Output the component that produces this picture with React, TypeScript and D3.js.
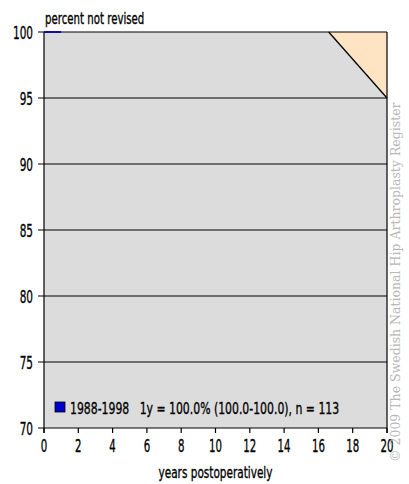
import React from 'react';
import * as d3 from 'd3';

// survival curve (years, percent not revised)
const curveYears = [0, 1];
const curvePercent = [100, 100];
// shaded region above the lower confidence limit
const bandYears = [16.6, 20, 20];
const bandPercent = [100, 95, 100];
const xTicks = [0, 2, 4, 6, 8, 10, 12, 14, 16, 18, 20];
const yTicks = [70, 75, 80, 85, 90, 95, 100];
const legendLabel = '1988-1998   1y = 100.0% (100.0-100.0), n = 113';

const font = '"DejaVu Sans", sans-serif';

// narrow text: DejaVu squeezed horizontally to look like the condensed original
function T({ x, y, anchor = 'start', size = 15, sx = 0.72, children }: any) {
  return (
    <g transform={`translate(${x},${y}) scale(${sx},1)`}>
      <text x={0} y={0} textAnchor={anchor} fontSize={size} stroke="#000" strokeWidth={0.35} style={{ whiteSpace: 'pre' }}>{children}</text>
    </g>
  );
}

export default function App() {
  const margin = { top: 32, left: 44, right: 22, bottom: 56 };
  const W = 409, H = 484;
  const x = d3.scaleLinear().domain([0, 20]).range([margin.left, W - margin.right]);
  const y = d3.scaleLinear().domain([70, 100]).range([H - margin.bottom, margin.top]);

  const band = d3.line<number>().x((d) => x(bandYears[d])).y((d) => y(bandPercent[d]));
  const curve = d3.line<number>().x((d) => x(curveYears[d])).y((d) => y(curvePercent[d]));

  return (
    <svg width={W} height={H} style={{ position: 'absolute', left: 0, top: 0 }} fontFamily={font}>
      <rect x={x(0)} y={y(100)} width={x(20) - x(0)} height={y(70) - y(100)} fill="#dcdcdc" />
      <path d={band([0, 1, 2]) + 'Z'} fill="#ffe4c4" />
      <line x1={x(bandYears[0])} y1={y(bandPercent[0])} x2={x(bandYears[1])} y2={y(bandPercent[1])} stroke="#000" strokeWidth={1.3} />
      {yTicks.map((t) => (
        <g key={t}>
          <line x1={x(0) - 6} x2={x(20)} y1={y(t)} y2={y(t)} stroke="#000" strokeWidth={1.2} />
          <T x={33} y={y(t) + 6.5} anchor="end" size={17.5} sx={0.6}>{t}</T>
        </g>
      ))}
      <line x1={x(0)} x2={x(0)} y1={y(100)} y2={y(70) + 5} stroke="#000" strokeWidth={1.2} />
      <line x1={x(20)} x2={x(20)} y1={y(100)} y2={y(70) + 5} stroke="#000" strokeWidth={1.2} />
      {xTicks.map((t) => (
        <g key={t}>
          <line x1={x(t)} x2={x(t)} y1={y(70)} y2={y(70) + 5} stroke="#000" strokeWidth={1.2} />
          <T x={x(t)} y={y(70) + 24} anchor="middle" size={17} sx={0.6}>{t}</T>
        </g>
      ))}
      <path d={curve(curveYears.map((_, i) => i)) || ''} stroke="#1010a0" strokeWidth={2} fill="none" />
      <T x={45} y={24} size={15} sx={0.68}>percent not revised</T>
      <T x={(x(0) + x(20)) / 2} y={478} anchor="middle" size={15} sx={0.7}>years postoperatively</T>
      <rect x={55} y={402} width={10} height={10} fill="#0000cc" stroke="#000" strokeWidth={0.8} />
      <T x={70} y={414} size={16} sx={0.68}>{legendLabel}</T>
      <text transform={`translate(400,${H - 22}) rotate(-90)`} fontSize={12.5} fill="#b8b8b8" fontFamily="'DejaVu Serif', serif">
        © 2009 The Swedish National Hip Arthroplasty Register
      </text>
    </svg>
  );
}
